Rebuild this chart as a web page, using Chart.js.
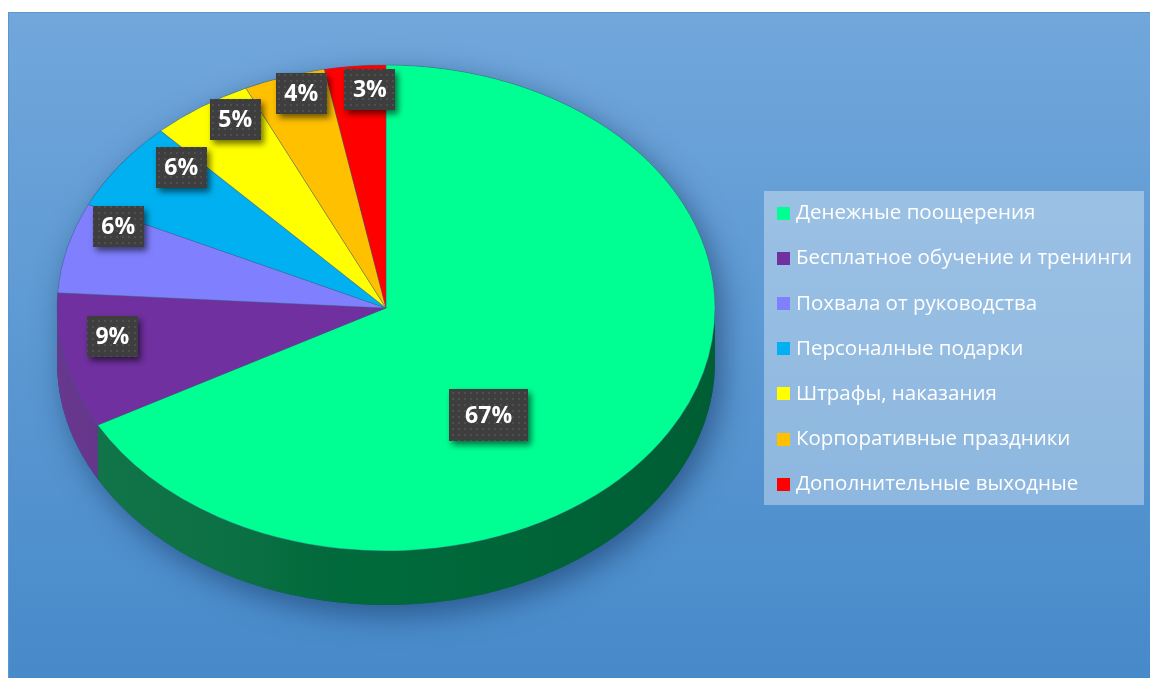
<!DOCTYPE html>
<html><head><meta charset="utf-8">
<script src="https://cdn.jsdelivr.net/npm/chart.js@4.4.0/dist/chart.umd.min.js"></script>
<style>html,body{margin:0;padding:0;background:#fff;}canvas{display:block;}</style>
</head><body>
<canvas id="c" width="1150" height="678" style="width:1150px;height:678px"></canvas>
<script>
// ---- data ----
const categories = ['Денежные поощерения','Бесплатное обучение и тренинги','Похвала от руководства','Персоналные подарки','Штрафы, наказания','Корпоративные праздники','Дополнительные выходные'];
const shares = [67, 9, 6, 6, 5, 4, 3];
const percentLabels = ['67%','9%','6%','6%','5%','4%','3%'];

// ---- style ----
const sliceColors = ['#00FF92','#7030A0','#8080FF','#00B0F0','#FFFF00','#FFC000','#FF0000'];
const sideColors  = ['#006A3B','#5A2783','#5A5AC0','#0080B0','#B0B000','#B08800','#B00000'];
const labelAngleFrac  = [0.60,0.64,0.87,0.82,0.70,0.62,0.71];
const labelRadiusFrac = [0.54,0.84,0.88,0.85,0.90,0.92,0.90];
const labelPadX = [16,8.5,8.5,8.5,8.5,8.5,8.5];
const labelBoxH = [52,41,41,41,41,41,41];
const TILT = 243/329, CENTER_Y = 308, DEPTH = 54;

const pc = document.createElement('canvas'); pc.width = 6; pc.height = 6;
const pctx = pc.getContext('2d');
pctx.fillStyle = '#3E3E3E'; pctx.fillRect(0,0,6,6);
pctx.fillStyle = '#4F4F4F'; pctx.fillRect(2,2,2,2);

const pie3d = {
  id: 'pie3d',
  beforeDraw(chart) {
    const ctx = chart.ctx;
    ctx.save();
    ctx.fillStyle = '#FFFFFF'; ctx.fillRect(0,0,1150,678);
    const g = ctx.createLinearGradient(0,12,0,678);
    g.addColorStop(0,'#71A7DB'); g.addColorStop(1,'#478ACA');
    ctx.fillStyle = g; ctx.fillRect(8,12,1142,666);
    ctx.strokeStyle = '#5C97D0'; ctx.lineWidth = 1;
    ctx.beginPath(); ctx.moveTo(8.5,678); ctx.lineTo(8.5,12.5); ctx.lineTo(1150,12.5); ctx.stroke();
    ctx.restore();
  },
  beforeDatasetsDraw(chart) {
    const ctx = chart.ctx;
    const arcs = chart.getDatasetMeta(0).data;
    const a0 = arcs[0];
    const cx = a0.x, r = a0.outerRadius, ry = r * TILT;
    ctx.save();
    ctx.shadowColor = 'rgba(15,45,90,0.55)'; ctx.shadowBlur = 30; ctx.shadowOffsetY = 10; ctx.shadowOffsetX = 7;
    ctx.fillStyle = '#1D4F7A';
    ctx.beginPath();
    ctx.ellipse(cx, CENTER_Y, r, ry, 0, Math.PI, 2*Math.PI);
    ctx.ellipse(cx, CENTER_Y + DEPTH, r, ry, 0, 0, Math.PI);
    ctx.closePath(); ctx.fill();
    ctx.restore();
    arcs.forEach((arc, i) => {
      const p = arc.getProps(['startAngle','endAngle'], true);
      const a = Math.max(p.startAngle, 0), b = Math.min(p.endAngle, Math.PI);
      if (a >= b) return;
      ctx.beginPath();
      ctx.ellipse(cx, CENTER_Y, r, ry, 0, a, b);
      ctx.ellipse(cx, CENTER_Y + DEPTH, r, ry, 0, b, a, true);
      ctx.closePath();
      ctx.fillStyle = sideColors[i]; ctx.fill();
      const g = ctx.createLinearGradient(cx - r, 0, cx + r, 0);
      g.addColorStop(0, 'rgba(255,255,255,0.08)');
      g.addColorStop(0.3, 'rgba(255,255,255,0.04)');
      g.addColorStop(0.5, 'rgba(0,0,0,0)');
      g.addColorStop(1, 'rgba(0,0,0,0.12)');
      ctx.fillStyle = g; ctx.fill();
    });
    ctx.save();
    ctx.translate(0, CENTER_Y); ctx.scale(1, TILT); ctx.translate(0, -a0.y);
  },
  afterDatasetsDraw(chart) {
    const ctx = chart.ctx;
    ctx.restore();
    const arcs = chart.getDatasetMeta(0).data;
    const pattern = ctx.createPattern(pc, 'repeat');
    arcs.forEach((arc, i) => {
      const p = arc.getProps(['x','startAngle','endAngle','outerRadius'], true);
      const t = p.startAngle + (p.endAngle - p.startAngle) * labelAngleFrac[i];
      const f = labelRadiusFrac[i];
      const lx = p.x + p.outerRadius * f * Math.cos(t);
      const ly = CENTER_Y + p.outerRadius * TILT * f * Math.sin(t);
      ctx.save();
      ctx.font = 'bold 23px "Open Sans"';
      const tw = ctx.measureText(percentLabels[i]).width;
      const w = tw + 2 * labelPadX[i], h = labelBoxH[i];
      ctx.shadowColor = 'rgba(0,0,0,0.55)'; ctx.shadowBlur = 6; ctx.shadowOffsetX = 3; ctx.shadowOffsetY = 4;
      ctx.fillStyle = pattern;
      ctx.fillRect(Math.round(lx - w/2), Math.round(ly - h/2), Math.round(w), h);
      ctx.shadowColor = 'transparent';
      ctx.fillStyle = '#FFFFFF';
      ctx.textAlign = 'center'; ctx.textBaseline = 'middle';
      ctx.fillText(percentLabels[i], lx, ly + 1);
      ctx.restore();
    });
  },
  afterDraw(chart) {
    const ctx = chart.ctx;
    const items = chart.options.plugins.legend.labels.generateLabels(chart);
    ctx.save();
    ctx.fillStyle = 'rgba(255,255,255,0.35)';
    ctx.fillRect(764, 191, 380, 314);
    ctx.font = '20.5px "Open Sans"';
    ctx.textBaseline = 'middle';
    items.forEach((it, i) => {
      const y = 213.5 + i * 45.1;
      ctx.fillStyle = it.fillStyle;
      ctx.fillRect(777, Math.round(y - 6.5), 13, 13);
      ctx.fillStyle = '#FFFFFF';
      ctx.fillText(it.text, 796, y);
    });
    ctx.restore();
  }
};

new Chart(document.getElementById('c'), {
  type: 'pie',
  data: {
    labels: categories,
    datasets: [{
      data: shares,
      backgroundColor: sliceColors,
      borderColor: 'rgba(70,95,130,0.45)',
      borderWidth: 1,
      radius: 329,
      clip: false
    }]
  },
  options: {
    responsive: false,
    animation: false,
    events: [],
    layout: { padding: { left: 0, right: 378, top: 0, bottom: 0 } },
    plugins: { legend: { display: false }, tooltip: { enabled: false } }
  },
  plugins: [pie3d]
});
</script>
</body></html>
